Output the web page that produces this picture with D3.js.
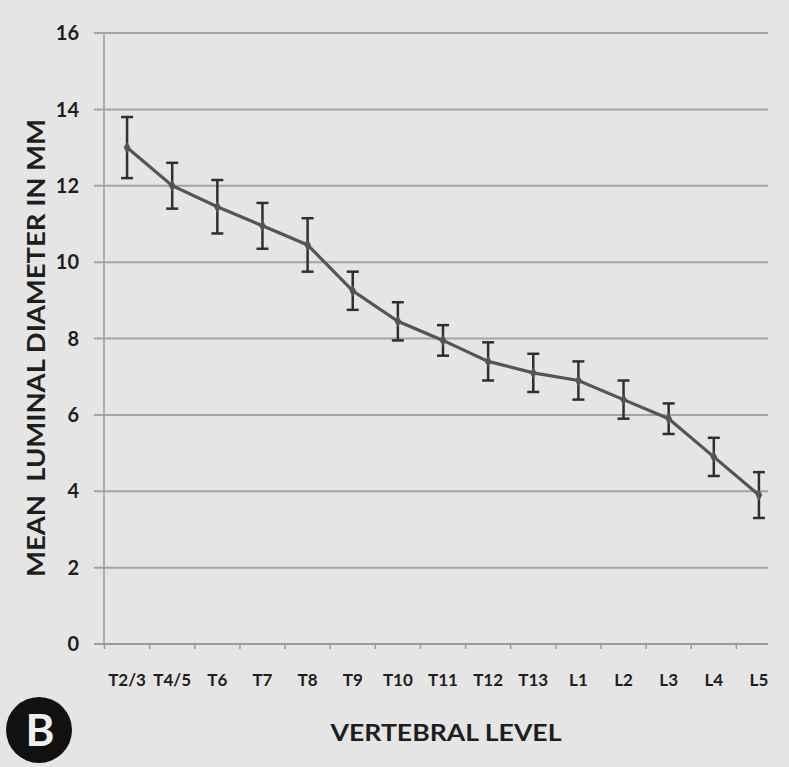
<!DOCTYPE html>
<html><head><meta charset="utf-8">
<script src="https://cdn.jsdelivr.net/npm/d3@7"></script>
<style>
html,body{margin:0;padding:0;background:#e5e5e5;}
svg{display:block;}
text{font-family:Lato,"Open Sans",sans-serif;font-weight:bold;fill:#1e1e1e;}
</style></head>
<body>
<script>
const categories = ["T2/3","T4/5","T6","T7","T8","T9","T10","T11","T12","T13","L1","L2","L3","L4","L5"];
const means = [13.0,12.0,11.45,10.95,10.45,9.25,8.45,7.95,7.4,7.1,6.9,6.4,5.9,4.9,3.9];
const errors = [0.8,0.6,0.7,0.6,0.7,0.5,0.5,0.4,0.5,0.5,0.5,0.5,0.4,0.5,0.6];
const yTicks = [0,2,4,6,8,10,12,14,16];
const yTitle = "MEAN  LUMINAL DIAMETER IN MM";
const xTitle = "VERTEBRAL LEVEL";
const panelLabel = "B";

const W = 789, H = 767;
const svg = d3.select("body").append("svg").attr("width", W).attr("height", H);
svg.append("rect").attr("width", W).attr("height", H).attr("fill", "#e5e5e5");

const plotLeft = 104, plotRight = 768;
const x = d3.scaleBand().domain(categories).range([104.5, 781.5]).padding(0);
const y = d3.scaleLinear().domain([0, 16]).range([644, 33]);

// gridlines + y ticks
const gy = svg.append("g");
gy.selectAll("line.grid").data(yTicks.filter(d => d > 0)).join("line")
  .attr("x1", 94).attr("x2", plotRight)
  .attr("y1", d => y(d)).attr("y2", d => y(d))
  .attr("stroke", "#a3a3a3").attr("stroke-width", 2);
gy.selectAll("text").data(yTicks).join("text")
  .attr("x", 79).attr("y", d => y(d)).attr("dy", "0.36em")
  .attr("text-anchor", "end").attr("font-size", 20).text(d => d);

// y axis line
svg.append("line").attr("x1", plotLeft).attr("x2", plotLeft)
  .attr("y1", y(16)).attr("y2", y(0)+1).attr("stroke", "#9a9a9a").attr("stroke-width", 1.5);
// x axis line
svg.append("line").attr("x1", 94).attr("x2", plotRight)
  .attr("y1", y(0)).attr("y2", y(0)).attr("stroke", "#9a9a9a").attr("stroke-width", 2);
// x ticks at band boundaries
svg.selectAll("line.xt").data(categories).join("line")
  .attr("class", "xt")
  .attr("x1", d => x(d)).attr("x2", d => x(d))
  .attr("y1", y(0)).attr("y2", y(0) + 5)
  .attr("stroke", "#9a9a9a").attr("stroke-width", 1.5);
// x labels
svg.selectAll("text.xl").data(categories).join("text")
  .attr("class", "xl")
  .attr("x", d => x(d) + x.bandwidth()/2).attr("y", 686)
  .attr("text-anchor", "middle").attr("font-size", 17)
  .attr("font-family", "'Liberation Sans Narrow', Lato, sans-serif")
  .text(d => d);

const cx = d => x(d) + x.bandwidth()/2;
const data = categories.map((c, i) => ({c, m: means[i], e: errors[i]}));

// line
svg.append("path").datum(data)
  .attr("d", d3.line().x(d => cx(d.c)).y(d => y(d.m)))
  .attr("fill", "none").attr("stroke", "#555").attr("stroke-width", 3.2);

// error bars
const eb = svg.append("g").attr("stroke", "#2f2f2f").attr("stroke-width", 2.5);
eb.selectAll("line.v").data(data).join("line")
  .attr("x1", d => cx(d.c)).attr("x2", d => cx(d.c))
  .attr("y1", d => y(d.m + d.e)).attr("y2", d => y(d.m - d.e));
eb.selectAll("line.t").data(data).join("line").attr("class","t")
  .attr("x1", d => cx(d.c) - 6).attr("x2", d => cx(d.c) + 6)
  .attr("y1", d => y(d.m + d.e)).attr("y2", d => y(d.m + d.e));
eb.selectAll("line.b").data(data).join("line").attr("class","b")
  .attr("x1", d => cx(d.c) - 6).attr("x2", d => cx(d.c) + 6)
  .attr("y1", d => y(d.m - d.e)).attr("y2", d => y(d.m - d.e));

// markers
svg.selectAll("path.mk").data(data).join("path").attr("class","mk")
  .attr("d", d3.symbol(d3.symbolDiamond, 40))
  .attr("transform", d => `translate(${cx(d.c)},${y(d.m)})`)
  .attr("fill", "#555");

// y title
svg.append("text")
  .attr("transform", `translate(45,348) rotate(-90)`)
  .attr("text-anchor", "middle").attr("font-size", 25)
  .attr("textLength", 458).attr("lengthAdjust", "spacingAndGlyphs")
  .style("white-space", "pre")
  .text(yTitle);

// x title
svg.append("text").attr("x", 446).attr("y", 741)
  .attr("text-anchor", "middle").attr("font-size", 22)
  .attr("textLength", 231).attr("lengthAdjust", "spacingAndGlyphs")
  .text(xTitle);

// panel label
svg.append("circle").attr("cx", 39).attr("cy", 730).attr("r", 33).attr("fill", "#111");
svg.append("text").attr("x", 40).attr("y", 730).attr("dy", "0.36em")
  .attr("text-anchor", "middle").attr("font-size", 44)
  .attr("font-weight", "normal").style("fill", "#f0f0f0").text(panelLabel);
</script>
</body></html>
